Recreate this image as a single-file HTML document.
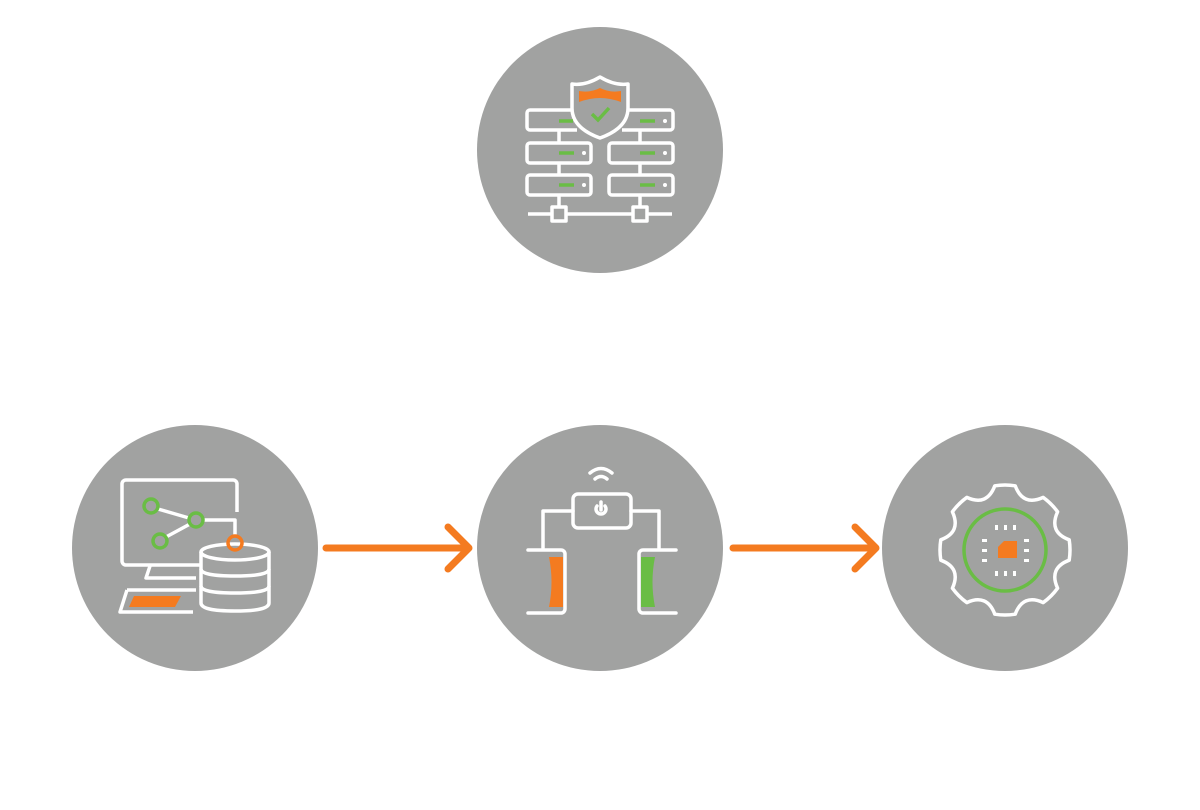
<!DOCTYPE html>
<html><head><meta charset="utf-8"><style>
html,body{margin:0;padding:0;background:#fff;width:1200px;height:810px;overflow:hidden}
</style></head><body>
<svg width="1200" height="810" viewBox="0 0 1200 810" xmlns="http://www.w3.org/2000/svg">
<g fill="#a1a2a1">
<circle cx="600" cy="150" r="123"/>
<circle cx="195" cy="548" r="123"/>
<circle cx="600" cy="548" r="123"/>
<circle cx="1005" cy="548" r="123"/>
</g>
<!-- arrows -->
<g stroke="#f47b20" stroke-width="7" fill="none" stroke-linecap="round" stroke-linejoin="round">
<line x1="326" y1="548" x2="468" y2="548"/><polyline points="448,527 469,548 448,569"/>
<line x1="733" y1="548" x2="875" y2="548"/><polyline points="855,527 876,548 855,569"/>
</g>
<!-- top icon -->
<g stroke="#fff" stroke-width="3.5" fill="none" stroke-linejoin="round">
<path d="M575,110 H530 a3,3 0 0 0 -3,3 v14 a3,3 0 0 0 3,3 H577"/>
<path d="M625,110 H670 a3,3 0 0 1 3,3 v14 a3,3 0 0 1 -3,3 H622"/>
<rect x="527" y="143" width="64" height="20" rx="3"/>
<rect x="609" y="143" width="64" height="20" rx="3"/>
<rect x="527" y="175" width="64" height="20" rx="3"/>
<rect x="609" y="175" width="64" height="20" rx="3"/>
<line x1="559" y1="130" x2="559" y2="143"/><line x1="559" y1="163" x2="559" y2="175"/><line x1="559" y1="195" x2="559" y2="207"/>
<line x1="640" y1="130" x2="640" y2="143"/><line x1="640" y1="163" x2="640" y2="175"/><line x1="640" y1="195" x2="640" y2="207"/>
<line x1="528" y1="214" x2="552" y2="214"/><line x1="566" y1="214" x2="633" y2="214"/><line x1="647" y1="214" x2="672" y2="214"/>
<rect x="552" y="207" width="14" height="14"/><rect x="633" y="207" width="14" height="14"/>
<path d="M600,77 Q585,86 572,84 V108 Q572,128 600,138 Q628,128 628,108 V84 Q615,86 600,77 Z" fill="#a1a2a1"/>
</g>
<path d="M579,91 Q590,93 600,88 Q610,93 621,91 V102 Q610,98 600,98 Q590,98 579,102 Z" fill="#f47b20"/>
<polyline points="592,114 598,120 609,108" stroke="#6abd45" stroke-width="3.5" fill="none"/>
<g stroke="#6abd45" stroke-width="3.5">
<line x1="559" y1="121" x2="573" y2="121"/><line x1="640" y1="121" x2="655" y2="121"/>
<line x1="559" y1="153" x2="574" y2="153"/><line x1="640" y1="153" x2="655" y2="153"/>
<line x1="559" y1="185" x2="574" y2="185"/><line x1="640" y1="185" x2="655" y2="185"/>
</g>
<g fill="#fff"><circle cx="584" cy="153" r="2"/><circle cx="584" cy="185" r="2"/><circle cx="665" cy="121" r="2"/><circle cx="665" cy="153" r="2"/><circle cx="665" cy="185" r="2"/></g>
<!-- left icon -->
<g stroke="#fff" stroke-width="3.5" fill="none" stroke-linejoin="round">
<path d="M200,565 H126 a4,4 0 0 1 -4,-4 V484 a4,4 0 0 1 4,-4 H233 a4,4 0 0 1 4,4 V512"/>
<path d="M150,566 L146,578 H196"/>
<path d="M127,590 H196 M193,612 H120 L127,590"/>
<line x1="158" y1="509" x2="189" y2="518"/><line x1="190" y1="524" x2="166" y2="537"/>
<polyline points="203,520 235,520 235,536"/>
<ellipse cx="235" cy="552" rx="34" ry="8"/>
<path d="M201,552 V603 Q201,611 235,611 Q269,611 269,603 V552"/>
<path d="M201,569 Q201,576 235,576 Q269,576 269,569"/>
<path d="M201,586 Q201,593 235,593 Q269,593 269,586"/>
</g>
<polygon points="134,596 181,596 175,607 129,607" fill="#f47b20"/>
<g stroke="#6abd45" stroke-width="3.5" fill="none"><circle cx="151" cy="506" r="7"/><circle cx="196" cy="520" r="7"/><circle cx="160" cy="541" r="7"/></g>
<circle cx="235" cy="543" r="7" stroke="#f47b20" stroke-width="3.5" fill="none"/>
<!-- middle icon -->
<g stroke="#fff" stroke-width="3.5" fill="none" stroke-linejoin="round" stroke-linecap="round">
<path d="M590,473 Q601,464 612,473"/><path d="M595,479 Q601,474 607,479"/>
<rect x="573" y="494" width="58" height="34" rx="5"/>
<path d="M597,506 A5,5 0 1 0 605,506"/><line x1="601" y1="502" x2="601" y2="510"/>
<polyline points="573,511 543,511 543,548"/><polyline points="631,511 659,511 659,548"/>
<path d="M528,550 H561 a4,4 0 0 1 4,4 V609 a4,4 0 0 1 -4,4 H528"/>
<path d="M676,550 H643 a4,4 0 0 0 -4,4 V609 a4,4 0 0 0 4,4 H676"/>
</g>
<path d="M549,557 H563 V607 H549 Q554,582 549,557 Z" fill="#f47b20"/>
<path d="M641,557 H655 Q650,582 655,607 H641 Z" fill="#6abd45"/>
<!-- right icon -->
<path id="gear" stroke="#fff" stroke-width="3.5" fill="none" stroke-linejoin="round"/>
<circle cx="1005" cy="550" r="41" stroke="#6abd45" stroke-width="3.5" fill="none"/>
<path d="M1004,541 H1017 V558 H998 V547 Z" fill="#f47b20"/>
<g fill="#fff">
<rect x="995" y="525" width="3" height="5"/><rect x="1004" y="525" width="3" height="5"/><rect x="1013" y="525" width="3" height="5"/>
<rect x="995" y="571" width="3" height="5"/><rect x="1004" y="571" width="3" height="5"/><rect x="1013" y="571" width="3" height="5"/>
<rect x="982" y="539" width="5" height="3"/><rect x="982" y="549" width="5" height="3"/><rect x="982" y="559" width="5" height="3"/>
<rect x="1024" y="539" width="5" height="3"/><rect x="1024" y="549" width="5" height="3"/><rect x="1024" y="559" width="5" height="3"/>
</g>
</svg>
<script>
(function(){
var cx=1005,cy=550,R=65,r=55,d="",n=8;
for(var i=0;i<n;i++){
 var a=i*2*Math.PI/n, hw=9*Math.PI/180;
 var a1=a-hw,a2=a+hw;
 var p1=[cx+R*Math.cos(a1),cy+R*Math.sin(a1)],p2=[cx+R*Math.cos(a2),cy+R*Math.sin(a2)];
 var an=a+Math.PI/n, a3=a+2*Math.PI/n-hw;
 var p3=[cx+R*Math.cos(a3),cy+R*Math.sin(a3)];
 var q=[cx+(r-8)*Math.cos(an),cy+(r-8)*Math.sin(an)];
 if(i==0)d+="M"+p1[0].toFixed(1)+","+p1[1].toFixed(1);
 d+=" A"+R+","+R+" 0 0 1 "+p2[0].toFixed(1)+","+p2[1].toFixed(1);
 d+=" Q"+q[0].toFixed(1)+","+q[1].toFixed(1)+" "+p3[0].toFixed(1)+","+p3[1].toFixed(1);
}
document.getElementById("gear").setAttribute("d",d+"Z");
})();
</script>
</body></html>
